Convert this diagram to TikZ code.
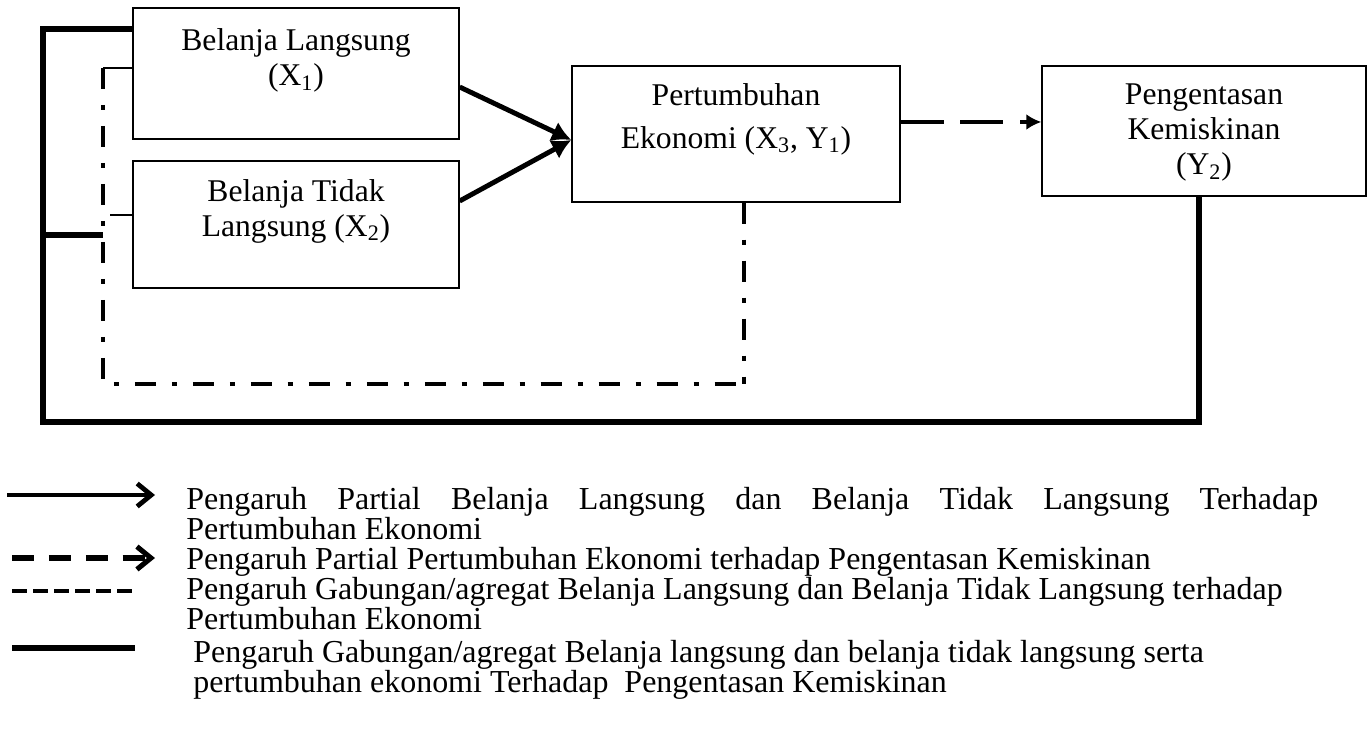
\documentclass[tikz,border=0pt]{standalone}
\usepackage{fontspec}
\setmainfont{Liberation Serif}
\usetikzlibrary{arrows.meta,calc}

\tikzset{
  kotak/.style={draw, line width=0.8pt, inner sep=0pt, align=center, font=\fontsize{18}{20}\selectfont},
  ket/.style={inner sep=0pt, align=left, anchor=base west, font=\fontsize{18.2}{17}\selectfont},
  pengaruh/.style={line width=2.8pt, -{Latex[length=11pt,width=12pt]}},
  pengaruhputus/.style={line width=2.8pt, dash pattern=on 24.5pt off 9.5pt, -{Latex[length=8.5pt,width=9pt]}},
  gabungan/.style={line width=2.9pt},
  agregat/.style={line width=2.5pt, dash pattern=on 12pt off 9pt on 3pt off 9pt},
  tipis/.style={line width=0.6pt},
  ketpanah/.style={line width=2.7pt, -{Straight Barb[length=8pt,width=13pt]}},
  ketputus/.style={line width=2.9pt, dash pattern=on 12.5pt off 8.5pt, -{Straight Barb[length=8pt,width=13pt]}},
  ketagregat/.style={line width=2.7pt, dash pattern=on 8.5pt off 3.5pt},
  ketgabungan/.style={line width=3.3pt}
}

\begin{document}
\begin{tikzpicture}[x=0.02cm, y=-0.02cm]
\useasboundingbox (0,0) rectangle (1369,736);
\node[kotak, minimum width=6.52cm, minimum height=2.62cm] (bl) at (296,73.5) {Belanja Langsung\\(X\textsubscript{1})\\[-1.4pt]\mbox{}};
\node[kotak, minimum width=6.52cm, minimum height=2.54cm] (bt) at (296,224.5) {Belanja Tidak\\Langsung (X\textsubscript{2})\\[-0.8pt]\mbox{}};
\node[kotak, minimum width=6.56cm, minimum height=2.72cm] (pe) at (736,134) {Pertumbuhan\\[4.5pt]Ekonomi (X\textsubscript{3}, Y\textsubscript{1})\\[0.9pt]\mbox{}};
\node[kotak, minimum width=6.48cm, minimum height=2.6cm] (pk) at (1204,131) {\rule{0pt}{13.4pt}Pengentasan\\Kemiskinan\\(Y\textsubscript{2})};
\coordinate (tuju) at ($(pe.west)+(0,6)$);
\draw[pengaruh] ($(bl.east)+(0,13.5)$) -- (tuju);
\draw[pengaruh] ($(bt.east)+(0,-23.5)$) -- (tuju);
\draw[pengaruhputus] ($(pe.east)+(0,-12)$) coordinate (pa) -- (pa -| pk.west);
\coordinate (agA) at (43,29);
\coordinate (agB) at (43,422);
\coordinate (agC) at (43,235);
\coordinate (gbC) at (103,235);
\draw[gabungan] (bl.west |- agA) -- (agA) -- (agB) -| ($(pk.south)+(-5,0)$);
\draw[gabungan] (agC) -- (gbC);
\coordinate (gbA) at (103,68);
\coordinate (gbB) at (103,384);
\coordinate (gbE) at ($(pe.south)+(8,0)$);
\coordinate (gbD) at (gbE |- gbB);
\coordinate (tpB) at (110,215);
\draw[tipis] (bl.west |- gbA) -- (gbA);
\draw[tipis] (bt.west |- tpB) -- (tpB);
\draw[agregat] (gbA) -- (gbB) -- (gbD);
\draw[agregat] (gbE) -- (gbD);
\coordinate (k1a) at (7,495);
\coordinate (k1b) at (155,495);
\coordinate (k2a) at (12,558);
\coordinate (k2b) at (155,558);
\coordinate (k3a) at (12,591);
\coordinate (k3b) at (135,591);
\coordinate (k4a) at (12,648);
\coordinate (k4b) at (135,648);
\draw[ketpanah] (k1a) -- (k1b);
\draw[ketputus] (k2a) -- (k2b);
\draw[ketagregat] (k3a) -- (k3b);
\draw[ketgabungan] (k4a) -- (k4b);
\node[ket] (t1) at (186,539) {\makebox[22.64cm][s]{Pengaruh Partial Belanja Langsung dan Belanja Tidak Langsung Terhadap}\\Pertumbuhan Ekonomi};
\node[ket] (t2) at (186,569) {Pengaruh Partial Pertumbuhan Ekonomi terhadap Pengentasan Kemiskinan};
\node[ket] (t3) at (186,629) {Pengaruh Gabungan/agregat Belanja Langsung dan Belanja Tidak Langsung terhadap\\Pertumbuhan Ekonomi};
\node[ket] (t4) at (193,692) {Pengaruh Gabungan/agregat Belanja langsung dan belanja tidak langsung serta\\pertumbuhan ekonomi Terhadap\ \ Pengentasan Kemiskinan};
\end{tikzpicture}
\end{document}
